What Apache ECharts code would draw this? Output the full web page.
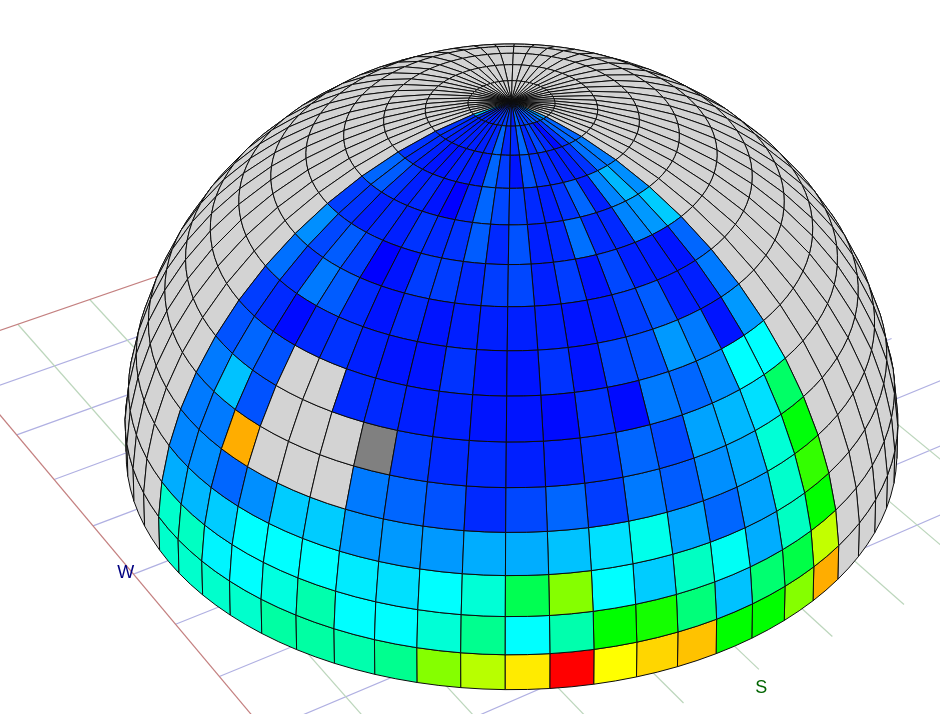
<!DOCTYPE html>
<html><head><meta charset="utf-8">
<style>html,body{margin:0;padding:0;background:#fff}#c{width:940px;height:714px}</style>
<script src="https://cdn.jsdelivr.net/npm/echarts@6/dist/echarts.min.js"></script>
</head><body><div id="c"></div>
<script>
// readings per altitude band (6 deg each, from horizon up), 19 azimuth sectors. null = no reading, -1 = rejected
const band00=[30,30,30,30,34,34,33,36,63,68,77,100,75,79,81,50,50,63,83];
const band06=[30,31,24,25,28,33,25,25,29,36,25,33,50,52,38,19,39,43,69];
const band12=[17,18,20,25,25,25,23,22,25,29,42,63,25,20,31,26,17,31,50];
const band18=[13,14,10,14,20,20,15,15,15,17,17,19,22,27,16,10,16,30,55];
const band24=[12,12,83,null,null,null,12,10,8,4,7,10,6,12,9,14,17,29,49];
const band30=[12,19,8,null,null,null,-1,6,4,4,3,3,5,10,7,16,18,22,40];
const band36=[8,10,8,null,null,4,4,3,3,2,2,1,5,1,12,10,14,25,25];
const band42=[6,4,1,4,5,3,2,2,5,2,2,5,2,7,8,15,12,2,15];
const band48=[11,5,12,9,4,2,4,2,3,3,3,3,2,3,6,9,3,3,12];
const band54=[14,7,9,6,0,2,6,6,4,6,7,3,6,2,7,3,3,2,10];
const band60=[6,5,3,4,3,5,4,5,9,4,8,3,4,11,4,4,13,15,20];
const band66=[10,9,5,3,4,2,0,4,10,7,6,4,3,5,10,3,13,18,14];
const band72=[5,4,3,2,2,3,3,3,10,6,2,8,5,4,3,3,5,11,12];
const band78=[5,4,3,3,3,3,3,4,10,4,4,10,4,7,4,1,5,10,10];
const band84=[20,5,4,4,3,3,5,5,6,6,3,10,5,7,6,9,8,12,15];
const bands=[band00,band06,band12,band18,band24,band30,band36,band42,band48,band54,band60,band66,band72,band78,band84];
const southTicks=[-0.9,-0.678,-0.456,-0.234,-0.012,0.21,0.432,0.654,0.876];
const westTicks=[-0.865,-0.647,-0.429,-0.211,0.007,0.225,0.443,0.661,0.879];
const compass=[{name:'W',s:-0.027,w:1.109,color:'#000080'},{name:'S',s:1.155,w:0.042,color:'#006400'}];

// view
const elev=37.5*Math.PI/180, D=8, F=3068, CX=511.5, CY=430.5;
const azOffset=-0.84, southAz=32.6*Math.PI/180, firstSector=-10;
const sMin=-1.128,sMax=1.098,wMin=-1.09,wMax=1.095;
const se=Math.sin(elev), ce=Math.cos(elev);
function project(X,Y,Z){const w=D-(Y*ce+Z*se);return [CX+F*X/w,CY-F*(Z*ce-Y*se)/w];}
function sph(azDeg,altDeg){const t=azDeg*Math.PI/180,a=altDeg*Math.PI/180;return [Math.cos(a)*Math.sin(t),Math.cos(a)*Math.cos(t),Math.sin(a)];}
function ground(s,w){const ss=Math.sin(southAz),cs=Math.cos(southAz);return project(s*ss-w*cs,s*cs+w*ss,0);}
function facing(P){return P[1]*ce*D+P[2]*se*D-1;}
function jet(t){
  const c=v=>Math.max(0,Math.min(255,Math.round(v)));
  let r=0,g=0,b=0;
  if(t<25){b=255;g=t/25*255}else if(t<50){g=255;b=(50-t)/25*255}else if(t<75){g=255;r=(t-50)/25*255}else{r=255;g=(100-t)/25*255}
  return `rgb(${c(r)},${c(g)},${c(b)})`;
}
const cells=[];
for(let r=0;r<15;r++){
  for(let k=-30;k<30;k++){
    const az=azOffset+6*k, alt=6*r;
    const corners=[sph(az,alt),sph(az+6,alt),sph(az+6,alt+6),sph(az,alt+6)];
    if(!corners.some(p=>facing(p)>0)) continue;
    const c=sph(az+3,alt+3);
    const idx=k-firstSector;
    let v=-2;
    if(idx>=0&&idx<19){v=bands[r][idx];if(v===null)v=-2;}
    cells.push({depth:c[1]*ce+c[2]*se,value:[k,r,v]});
  }
}
cells.sort((a,b)=>a.depth-b.depth);
const gridLines=[];
southTicks.forEach(t=>gridLines.push([0,t,wMin,t,wMax]));
westTicks.forEach(t=>gridLines.push([1,sMin,t,sMax,t]));
gridLines.push([2,sMin,wMin,sMin,wMax]);
gridLines.push([2,sMin,wMax,sMax,wMax]);
const lineCols=['#b0b0e2','#bcd6bc','#c48080'];

const chart=echarts.init(document.getElementById('c'),null,{renderer:'canvas'});
chart.setOption({
  animation:false,backgroundColor:'#fff',
  grid:{left:0,right:0,top:0,bottom:0},
  xAxis:{type:'value',min:0,max:940,show:false},
  yAxis:{type:'value',min:0,max:714,inverse:true,show:false},
  series:[
    {type:'custom',coordinateSystem:'cartesian2d',clip:true,silent:true,z:1,
     data:gridLines,
     renderItem(p,api){
       const a=api.coord(ground(api.value(1),api.value(2))),b=api.coord(ground(api.value(3),api.value(4)));
       return {type:'line',shape:{x1:a[0],y1:a[1],x2:b[0],y2:b[1]},style:{stroke:lineCols[api.value(0)],lineWidth:1.2}};
     }},
    {type:'custom',coordinateSystem:'cartesian2d',clip:false,silent:true,z:2,
     data:compass.map(c=>({value:[c.s,c.w],name:c.name})),
     renderItem(p,api){
       const c=compass[p.dataIndex];const a=api.coord(ground(c.s,c.w));
       return {type:'text',x:a[0],y:a[1],style:{text:c.name,fill:c.color,font:'18px "Liberation Sans"',align:'center',verticalAlign:'middle'}};
     }},
    {type:'custom',coordinateSystem:'cartesian2d',clip:true,silent:true,z:3,
     data:cells.map(c=>c.value),
     renderItem(p,api){
       const k=api.value(0),r=api.value(1),v=api.value(2);
       const az=azOffset+6*k,alt=6*r;
       const pts=[];
       const steps=2;
       for(let i=0;i<=steps;i++)pts.push(sph(az+6*i/steps,alt));
       for(let i=steps;i>=0;i--)pts.push(sph(az+6*i/steps,alt+6));
       const poly=pts.map(q=>api.coord(project(q[0],q[1],q[2])));
       const fill=v===-2?'#d3d3d3':v===-1?'#808080':jet(v);
       return {type:'polygon',shape:{points:poly},style:{fill:fill,stroke:'#0c0c0c',lineWidth:1}};
     }}
  ]
});
</script></body></html>
